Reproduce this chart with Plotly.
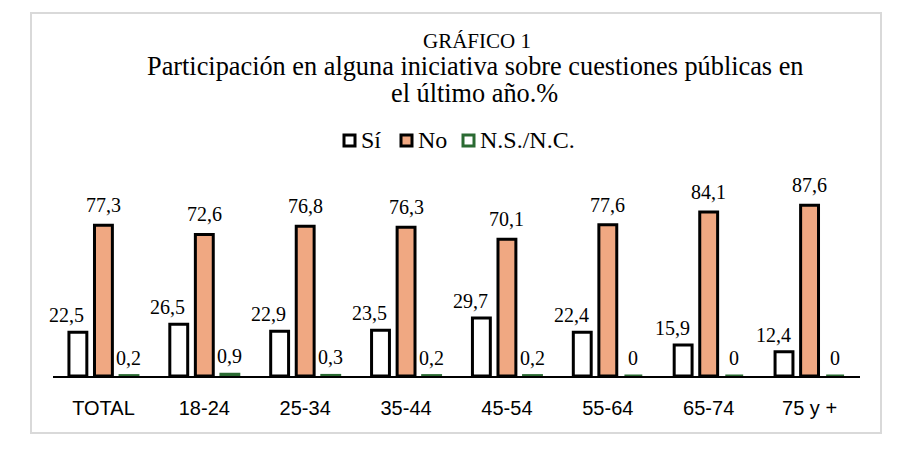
import plotly.graph_objects as go

categories = ["TOTAL", "18-24", "25-34", "35-44", "45-54", "55-64", "65-74", "75 y +"]
si_values = [22.5, 26.5, 22.9, 23.5, 29.7, 22.4, 15.9, 12.4]
no_values = [77.3, 72.6, 76.8, 76.3, 70.1, 77.6, 84.1, 87.6]
nsnc_values = [0.2, 0.9, 0.3, 0.2, 0.2, 0, 0, 0]
series_names = ["Sí", "No", "N.S./N.C."]


def fmt(v):
    return "0" if v == 0 else f"{v:.1f}".replace(".", ",")


SERIF = "Liberation Serif, Times New Roman, serif"
SANS = "Liberation Sans, Arial, sans-serif"

styles = [
    dict(fill="#FFFFFF", line="#000000"),
    dict(fill="#F0A882", line="#000000"),
    dict(fill="#FFFFFF", line="#2A6A32"),
]

W, H = 906, 449
ml, mr, mt, mb = 53, 46, 181, 73
pw, ph = W - ml - mr, H - mt - mb
bargap, bargroupgap = 0.24, 0.3


def px(xp):
    return (xp - ml) / pw


def py(yp):
    return (H - mb - yp) / ph


fig = go.Figure()
all_vals = [si_values, no_values, nsnc_values]
for name, vals, st in zip(series_names, all_vals, styles):
    fig.add_trace(go.Bar(
        name=name, x=categories, y=vals,
        marker=dict(color=st["fill"], line=dict(color=st["line"], width=3)),
        cliponaxis=False, showlegend=False,
    ))

annotations = []
slot = pw / len(categories) * (1 - bargap) / 3
label_shift = [-slot - 11, 0, slot]   # Sí labels sit up-left of their bar
label_yshift = [4, 7, 5]
for vals, xs, ys in zip(all_vals, label_shift, label_yshift):
    for c, v in zip(categories, vals):
        annotations.append(dict(x=c, y=v, xref="x", yref="y", text=fmt(v), showarrow=False,
                                xanchor="center", yanchor="bottom", xshift=xs, yshift=ys,
                                font=dict(family=SERIF, size=20, color="#000000")))

# titles
annotations += [
    dict(text="GRÁFICO 1", xref="paper", yref="paper", x=px(477), y=py(41),
         showarrow=False, font=dict(family=SERIF, size=21, color="#000000"),
         xanchor="center", yanchor="middle"),
    dict(text="Participación en alguna iniciativa sobre cuestiones públicas en",
         xref="paper", yref="paper", x=px(475), y=py(66),
         showarrow=False, font=dict(family=SERIF, size=26.3, color="#000000"),
         xanchor="center", yanchor="middle"),
    dict(text="el último año.%",
         xref="paper", yref="paper", x=px(474), y=py(93),
         showarrow=False, font=dict(family=SERIF, size=26.3, color="#000000"),
         xanchor="center", yanchor="middle"),
]

# legend (symbols + labels)
shapes = [dict(type="rect", xref="paper", yref="paper",
               x0=px(31), x1=px(881), y0=py(433), y1=py(13),
               line=dict(color="#D9D9D9", width=2), fillcolor="rgba(0,0,0,0)", layer="below")]
legend_x = [343, 400, 462]
for name, st, lx in zip(series_names, styles, legend_x):
    shapes.append(dict(type="rect", xref="paper", yref="paper",
                       x0=px(lx + 1), x1=px(lx + 12), y0=py(146), y1=py(135),
                       line=dict(color=st["line"], width=3), fillcolor=st["fill"]))
    annotations.append(dict(text=name, xref="paper", yref="paper", x=px(lx + 16), y=py(140),
                            showarrow=False, xanchor="left", yanchor="middle",
                            font=dict(family=SERIF, size=24, color="#000000")))

fig.update_layout(
    width=W, height=H,
    margin=dict(l=ml, r=mr, t=mt, b=mb, autoexpand=False),
    paper_bgcolor="white", plot_bgcolor="white",
    barmode="group", bargap=bargap, bargroupgap=bargroupgap,
    showlegend=False,
    xaxis=dict(showline=True, linecolor="#000000", linewidth=2, showgrid=False,
               range=[-0.5, len(categories) - 0.5], automargin=False,
               ticks="", ticklabelstandoff=13,
               tickfont=dict(family=SANS, size=20, color="#000000")),
    yaxis=dict(range=[0, 100], visible=False, showgrid=False, zeroline=False, automargin=False),
    shapes=shapes,
    annotations=annotations,
)

fig.write_html("out.html", config={"displayModeBar": False},
               post_script="document.body.style.margin='0';")
